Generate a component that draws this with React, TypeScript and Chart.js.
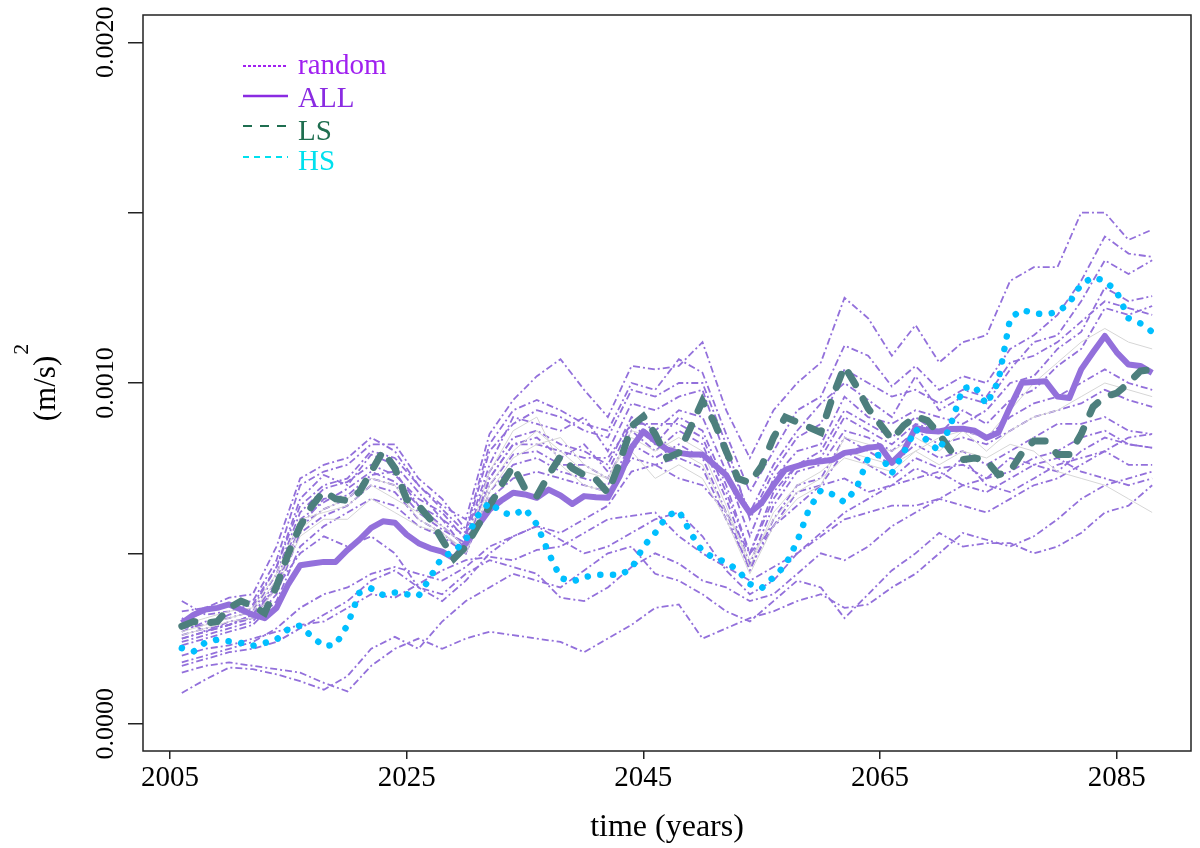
import { useEffect, useRef } from "react"
import { Chart, registerables } from "chart.js"

Chart.register(...registerables)

// values are in units of 1e-3 (m/s)^2
const SCALE = 1e-3
const SERIF = "'Liberation Serif', 'DejaVu Serif', serif"

const years = Array.from({ length: 83 }, (_, i) => 2006 + i)
const randomYears = Array.from({ length: 42 }, (_, i) => 2006 + 2 * i)

const xTicks = [2005, 2025, 2045, 2065, 2085]
const yTicks = [0, 0.0005, 0.001, 0.0015, 0.002]
const yTickLabels = ["0.0000", "", "0.0010", "", "0.0020"]

const allValues = [
  0.296, 0.32, 0.335, 0.34, 0.35, 0.335, 0.32, 0.31, 0.34, 0.41,
  0.465, 0.47, 0.475, 0.475, 0.51, 0.54, 0.575, 0.594, 0.59, 0.555,
  0.53, 0.515, 0.505, 0.485, 0.53, 0.58, 0.628, 0.655, 0.678, 0.673,
  0.663, 0.687, 0.67, 0.645, 0.668, 0.665, 0.663, 0.726, 0.81, 0.858,
  0.83, 0.805, 0.795, 0.79, 0.79, 0.76, 0.73, 0.67, 0.619, 0.648,
  0.7, 0.746, 0.756, 0.766, 0.77, 0.775, 0.795, 0.8, 0.81, 0.814,
  0.766, 0.8, 0.868, 0.86, 0.858, 0.865, 0.866, 0.86, 0.839, 0.854,
  0.93, 1.001, 1.003, 1.005, 0.96, 0.956, 1.04, 1.09, 1.138, 1.09,
  1.054, 1.05, 1.03,
]

const lsValues = [
  0.286, 0.3, 0.295, 0.3, 0.34, 0.36, 0.345, 0.325, 0.403, 0.5,
  0.58, 0.64, 0.682, 0.66, 0.655, 0.68, 0.74, 0.8, 0.75, 0.658,
  0.64, 0.6, 0.54, 0.485, 0.52, 0.58, 0.638, 0.7, 0.756, 0.69,
  0.668, 0.73, 0.785, 0.75, 0.73, 0.717, 0.678, 0.766, 0.873, 0.902,
  0.85, 0.78, 0.795, 0.87, 0.947, 0.885, 0.8, 0.72, 0.707, 0.756,
  0.84, 0.9, 0.885, 0.87, 0.855, 0.96, 1.049, 0.991, 0.925, 0.88,
  0.834, 0.875, 0.902, 0.89, 0.85, 0.8, 0.775, 0.78, 0.772, 0.731,
  0.741, 0.795, 0.83, 0.83, 0.79, 0.79, 0.85, 0.93, 0.96, 0.97,
  1.0, 1.035, 1.04,
]

const hsValues = [
  0.222, 0.212, 0.239, 0.247, 0.242, 0.237, 0.229, 0.237, 0.247, 0.278,
  0.288, 0.255, 0.228, 0.232, 0.29, 0.384, 0.397, 0.378, 0.385, 0.38,
  0.375, 0.43, 0.49, 0.505, 0.54, 0.61, 0.65, 0.621, 0.612, 0.631,
  0.585, 0.501, 0.428, 0.417, 0.43, 0.437, 0.437, 0.437, 0.455, 0.52,
  0.56, 0.61, 0.625, 0.56, 0.505, 0.487, 0.474, 0.45, 0.41, 0.398,
  0.43, 0.465, 0.535, 0.63, 0.685, 0.673, 0.65, 0.69, 0.78, 0.79,
  0.735, 0.795, 0.865, 0.83, 0.8, 0.88, 0.985, 0.99, 0.937, 1.005,
  1.19, 1.215, 1.204, 1.202, 1.208, 1.235, 1.29, 1.31, 1.3, 1.268,
  1.19, 1.175, 1.15,
]

// individual random runs, every second year
const randomRuns = [
  [0.33, 0.34, 0.37, 0.38, 0.52, 0.72, 0.76, 0.78, 0.84, 0.8, 0.7, 0.64, 0.6, 0.85, 0.95, 1.02, 1.07, 0.98, 0.9, 1.05, 1.04, 1.05, 1.12, 0.92, 0.78, 0.92, 1.0, 1.06, 1.25, 1.19, 1.08, 1.17, 1.06, 1.12, 1.14, 1.3, 1.34, 1.34, 1.5, 1.5, 1.42, 1.45],
  [0.3, 0.33, 0.35, 0.36, 0.48, 0.7, 0.74, 0.76, 0.82, 0.82, 0.72, 0.66, 0.57, 0.82, 0.92, 0.95, 0.92, 0.88, 0.86, 1.0, 0.98, 1.07, 1.03, 0.85, 0.68, 0.8, 0.92, 0.96, 1.11, 1.08, 0.99, 1.05, 0.98, 1.02, 1.0, 1.1, 1.14, 1.2, 1.3, 1.43, 1.38, 1.37],
  [0.36, 0.32, 0.33, 0.35, 0.46, 0.66, 0.73, 0.7, 0.79, 0.76, 0.68, 0.6, 0.55, 0.76, 0.9, 0.88, 0.86, 0.9, 0.8, 0.94, 0.92, 0.96, 0.98, 0.78, 0.62, 0.76, 0.86, 0.94, 1.0, 0.95, 0.9, 1.02, 0.92, 0.96, 0.94, 1.04, 1.12, 1.14, 1.24, 1.36, 1.32, 1.36],
  [0.27, 0.3, 0.31, 0.33, 0.44, 0.62, 0.69, 0.71, 0.76, 0.73, 0.66, 0.62, 0.54, 0.74, 0.84, 0.86, 0.82, 0.8, 0.76, 0.9, 0.86, 0.92, 0.9, 0.74, 0.55, 0.72, 0.8, 0.82, 0.96, 0.9, 0.88, 0.92, 0.9, 0.88, 0.92, 1.0, 1.02, 1.1, 1.15, 1.28, 1.24, 1.255],
  [0.26, 0.28, 0.29, 0.32, 0.42, 0.6, 0.65, 0.69, 0.74, 0.71, 0.64, 0.58, 0.52, 0.72, 0.82, 0.84, 0.78, 0.82, 0.74, 0.88, 0.82, 0.9, 0.86, 0.7, 0.5, 0.68, 0.76, 0.8, 0.92, 0.88, 0.84, 0.9, 0.85, 0.92, 0.88, 0.95, 0.98, 1.05, 1.1, 1.22, 1.2, 1.226],
  [0.31, 0.27, 0.3, 0.31, 0.4, 0.58, 0.63, 0.66, 0.72, 0.7, 0.62, 0.57, 0.53, 0.7, 0.79, 0.8, 0.76, 0.76, 0.72, 0.86, 0.8, 0.86, 0.82, 0.66, 0.47, 0.64, 0.74, 0.76, 0.86, 0.84, 0.8, 0.86, 0.82, 0.84, 0.82, 0.86, 0.9, 0.92, 0.94, 0.98, 0.95, 0.93],
  [0.24, 0.26, 0.28, 0.3, 0.38, 0.56, 0.61, 0.64, 0.7, 0.68, 0.6, 0.56, 0.5, 0.68, 0.76, 0.78, 0.74, 0.72, 0.7, 0.82, 0.78, 0.82, 0.78, 0.62, 0.45, 0.6, 0.7, 0.72, 0.84, 0.8, 0.76, 0.82, 0.78, 0.8, 0.76, 0.8, 0.84, 0.88, 0.88, 0.9, 0.86, 0.85],
  [0.23, 0.25, 0.27, 0.29, 0.36, 0.52, 0.58, 0.62, 0.66, 0.64, 0.58, 0.55, 0.5, 0.66, 0.72, 0.74, 0.72, 0.7, 0.68, 0.78, 0.76, 0.78, 0.75, 0.6, 0.46, 0.58, 0.68, 0.7, 0.8, 0.76, 0.72, 0.78, 0.75, 0.76, 0.72, 0.74, 0.78, 0.8, 0.84, 0.86, 0.82, 0.81],
  [0.28, 0.29, 0.32, 0.34, 0.46, 0.64, 0.7, 0.72, 0.8, 0.78, 0.7, 0.63, 0.56, 0.8, 0.88, 0.92, 0.9, 0.86, 0.84, 0.98, 0.96, 1.0, 1.0, 0.82, 0.6, 0.74, 0.84, 0.88, 1.04, 1.0, 0.96, 0.98, 0.94, 0.98, 0.96, 1.06, 1.08, 1.12, 1.18, 1.24, 1.22, 1.2],
  [0.25, 0.27, 0.29, 0.31, 0.41, 0.58, 0.66, 0.67, 0.73, 0.74, 0.64, 0.6, 0.51, 0.72, 0.82, 0.82, 0.8, 0.78, 0.78, 0.88, 0.88, 0.88, 0.84, 0.68, 0.5, 0.66, 0.76, 0.78, 0.9, 0.86, 0.82, 0.88, 0.86, 0.86, 0.84, 0.9, 0.94, 0.96, 1.0, 1.04, 1.0, 0.98],
  [0.09, 0.13, 0.165, 0.16, 0.145, 0.125, 0.1, 0.14, 0.22, 0.255, 0.22, 0.3, 0.36, 0.4, 0.44, 0.42, 0.4, 0.45, 0.5, 0.52, 0.44, 0.42, 0.38, 0.33, 0.3, 0.36, 0.42, 0.4, 0.31, 0.38, 0.45, 0.5, 0.56, 0.52, 0.53, 0.53, 0.5, 0.52, 0.56, 0.62, 0.64, 0.7],
  [0.15, 0.17, 0.18, 0.17, 0.16, 0.15, 0.12, 0.095, 0.17, 0.22, 0.25, 0.22, 0.25, 0.27, 0.26, 0.25, 0.24, 0.21, 0.25, 0.29, 0.34, 0.35, 0.25, 0.28, 0.31, 0.33, 0.36, 0.38, 0.34, 0.35, 0.4, 0.44, 0.5, 0.56, 0.54, 0.52, 0.55, 0.6, 0.66, 0.7, 0.72, 0.74],
  [0.2, 0.22, 0.23, 0.25, 0.27, 0.29, 0.3, 0.34, 0.38, 0.37, 0.41, 0.45, 0.48, 0.49, 0.48, 0.51, 0.52, 0.56, 0.6, 0.61, 0.62, 0.55, 0.5, 0.46, 0.42, 0.46, 0.5, 0.55, 0.6, 0.62, 0.64, 0.64, 0.66, 0.7, 0.72, 0.78, 0.76, 0.74, 0.8, 0.84, 0.82, 0.81],
  [0.25, 0.27, 0.29, 0.32, 0.4, 0.5, 0.55, 0.52, 0.55, 0.5, 0.4, 0.36, 0.42, 0.5, 0.55, 0.58, 0.56, 0.6, 0.64, 0.74, 0.76, 0.72, 0.7, 0.62, 0.5, 0.58, 0.64, 0.7, 0.72, 0.68, 0.7, 0.75, 0.72, 0.78, 0.7, 0.68, 0.72, 0.76, 0.78, 0.8, 0.76, 0.76],
  [0.18, 0.2, 0.22, 0.24, 0.28, 0.34, 0.38, 0.4, 0.44, 0.46, 0.44, 0.42, 0.46, 0.52, 0.55, 0.58, 0.54, 0.5, 0.52, 0.56, 0.6, 0.62, 0.55, 0.45, 0.38, 0.42, 0.5, 0.56, 0.62, 0.66, 0.7, 0.72, 0.74, 0.7, 0.68, 0.72, 0.76, 0.78, 0.74, 0.72, 0.7, 0.72],
  [0.17, 0.19, 0.21, 0.22, 0.24, 0.28, 0.32, 0.36, 0.42, 0.45, 0.4, 0.38, 0.44, 0.48, 0.46, 0.44, 0.37, 0.36, 0.4, 0.46, 0.5, 0.47, 0.42, 0.4, 0.36, 0.38, 0.44, 0.5, 0.48, 0.52, 0.58, 0.62, 0.66, 0.64, 0.62, 0.66, 0.7, 0.72, 0.76, 0.8, 0.84, 0.85],
]

// faint grey runs behind the bundle
const greyRuns = [
  [0.26, 0.28, 0.3, 0.31, 0.4, 0.55, 0.6, 0.6, 0.66, 0.62, 0.58, 0.56, 0.5, 0.68, 0.78, 0.82, 0.84, 0.76, 0.72, 0.84, 0.8, 0.84, 0.8, 0.64, 0.46, 0.62, 0.7, 0.74, 0.8, 0.78, 0.76, 0.8, 0.76, 0.8, 0.78, 0.82, 0.8, 0.74, 0.72, 0.7, 0.66, 0.62],
  [0.29, 0.31, 0.33, 0.34, 0.44, 0.6, 0.62, 0.64, 0.7, 0.66, 0.62, 0.58, 0.52, 0.74, 0.86, 0.9, 0.76, 0.7, 0.68, 0.8, 0.72, 0.76, 0.72, 0.6, 0.44, 0.58, 0.66, 0.7, 0.84, 0.82, 0.8, 0.84, 0.8, 0.86, 0.84, 0.92, 1.0, 1.06, 1.12, 1.16, 1.12, 1.1],
  [0.27, 0.29, 0.31, 0.33, 0.42, 0.57, 0.63, 0.66, 0.72, 0.7, 0.6, 0.56, 0.51, 0.7, 0.8, 0.86, 0.8, 0.74, 0.72, 0.86, 0.84, 0.8, 0.76, 0.62, 0.48, 0.6, 0.68, 0.72, 0.78, 0.76, 0.74, 0.8, 0.84, 0.86, 0.8, 0.86, 0.9, 0.92, 0.96, 1.0, 0.98, 0.96],
]

const legendRows = [
  { label: "random", text: "#A020F0", line: "#A020F0", dash: [3, 2], width: 2 },
  { label: "ALL", text: "#8A2BE2", line: "#8A2BE2", dash: [], width: 2.5 },
  { label: "LS", text: "#1F6E50", line: "#1F6E50", dash: [9, 8], width: 2 },
  { label: "HS", text: "#00E0EE", line: "#00E0EE", dash: [6, 5], width: 2 },
]

const toPoints = (xs: number[], ys: number[]) => ys.map((v, i) => ({ x: xs[i], y: v * SCALE }))

const decorations = {
  id: "decorations",
  afterDraw(chart: Chart) {
    const { ctx, chartArea } = chart
    const yScale = chart.scales.y
    ctx.save()

    // box round the plot
    ctx.strokeStyle = "#222"
    ctx.lineWidth = 1.5
    ctx.setLineDash([])
    ctx.strokeRect(chartArea.left, chartArea.top, chartArea.right - chartArea.left, chartArea.bottom - chartArea.top)

    // y tick labels, turned like R does
    ctx.fillStyle = "#000"
    ctx.font = `26px ${SERIF}`
    ctx.textAlign = "center"
    ctx.textBaseline = "alphabetic"
    yTicks.forEach((v, i) => {
      if (!yTickLabels[i]) return
      ctx.save()
      ctx.translate(113, yScale.getPixelForValue(v))
      ctx.rotate(-Math.PI / 2)
      ctx.fillText(yTickLabels[i], 0, 0)
      ctx.restore()
    })

    // axis titles
    ctx.font = `32px ${SERIF}`
    ctx.fillText("time (years)", (chartArea.left + chartArea.right) / 2, 836)

    const midY = (chartArea.top + chartArea.bottom) / 2
    ctx.save()
    ctx.translate(55, midY)
    ctx.rotate(-Math.PI / 2)
    ctx.font = `31px ${SERIF}`
    const w1 = ctx.measureText("(m/s)").width
    ctx.font = `22px ${SERIF}`
    const w2 = ctx.measureText("2").width
    ctx.textAlign = "left"
    ctx.font = `31px ${SERIF}`
    ctx.fillText("(m/s)", -(w1 + w2) / 2, 0)
    ctx.font = `22px ${SERIF}`
    ctx.fillText("2", -(w1 + w2) / 2 + w1 + 1, -27)
    ctx.restore()

    // legend
    const lineYs = [66, 96, 126, 157]
    const baseYs = [74, 107, 140, 170]
    ctx.font = `29px ${SERIF}`
    ctx.textAlign = "left"
    legendRows.forEach((row, i) => {
      ctx.beginPath()
      ctx.strokeStyle = row.line
      ctx.lineWidth = row.width
      ctx.setLineDash(row.dash)
      ctx.moveTo(243, lineYs[i])
      ctx.lineTo(288, lineYs[i])
      ctx.stroke()
      ctx.fillStyle = row.text
      ctx.fillText(row.label, 298, baseYs[i])
    })
    ctx.restore()
  },
}

export default function App() {
  const chartRef = useRef<HTMLCanvasElement>(null)
  const chartInstance = useRef<Chart | null>(null)

  useEffect(() => {
    document.body.style.margin = "0"
    if (!chartRef.current) return
    if (chartInstance.current) chartInstance.current.destroy()

    const ctx = chartRef.current.getContext("2d")
    if (!ctx) return

    const datasets: any[] = [
      {
        label: "HS",
        data: toPoints(years, hsValues),
        borderColor: "#00BFFF",
        borderWidth: 6.5,
        borderDash: [0.1, 12.6],
        borderCapStyle: "round",
      },
      {
        label: "LS",
        data: toPoints(years, lsValues),
        borderColor: "#4D7F7D",
        borderWidth: 7,
        borderDash: [14, 16],
        borderCapStyle: "round",
      },
      {
        label: "ALL",
        data: toPoints(years, allValues),
        borderColor: "#9370DB",
        borderWidth: 6,
        borderJoinStyle: "round",
      },
      ...greyRuns.map((run, i) => ({
        label: "grey " + (i + 1),
        data: toPoints(randomYears, run),
        borderColor: "#D6D6D6",
        borderWidth: 1,
      })),
      ...randomRuns.map((run, i) => ({
        label: "random " + (i + 1),
        data: toPoints(randomYears, run),
        borderColor: "#9370DB",
        borderWidth: 1.8,
        borderDash: [7, 3, 2, 3],
      })),
    ]

    chartInstance.current = new Chart(ctx, {
      type: "line",
      data: { datasets },
      options: {
        responsive: true,
        maintainAspectRatio: false,
        animation: false,
        layout: { padding: { top: 15, right: 9, left: 0, bottom: 0 } },
        elements: { point: { radius: 0 }, line: { tension: 0 } },
        plugins: { legend: { display: false }, tooltip: { enabled: false } },
        scales: {
          x: {
            type: "linear",
            min: 2002.72,
            max: 2091.28,
            afterBuildTicks: (scale: any) => {
              scale.ticks = xTicks.map((value) => ({ value }))
            },
            afterFit: (scale: any) => {
              scale.height = 97
            },
            ticks: {
              autoSkip: false,
              maxRotation: 0,
              padding: 2,
              color: "#000",
              font: { family: SERIF, size: 29 },
              callback: (value: any) => String(value),
            },
            grid: { display: true, drawOnChartArea: false, drawTicks: true, tickLength: 8, color: "#222", lineWidth: 1.5 },
            border: { display: false },
          },
          y: {
            type: "linear",
            min: -0.00008,
            max: 0.00208,
            afterBuildTicks: (scale: any) => {
              scale.ticks = yTicks.map((value) => ({ value }))
            },
            afterFit: (scale: any) => {
              scale.width = 143
            },
            ticks: { display: false },
            grid: { display: true, drawOnChartArea: false, drawTicks: true, tickLength: 15, color: "#222", lineWidth: 1.5 },
            border: { display: false },
          },
        },
      },
      plugins: [decorations],
    })

    return () => {
      if (chartInstance.current) {
        chartInstance.current.destroy()
        chartInstance.current = null
      }
    }
  }, [])

  return (
    <div style={{ width: 1200, height: 848, position: "relative" }}>
      <canvas ref={chartRef} />
    </div>
  )
}
